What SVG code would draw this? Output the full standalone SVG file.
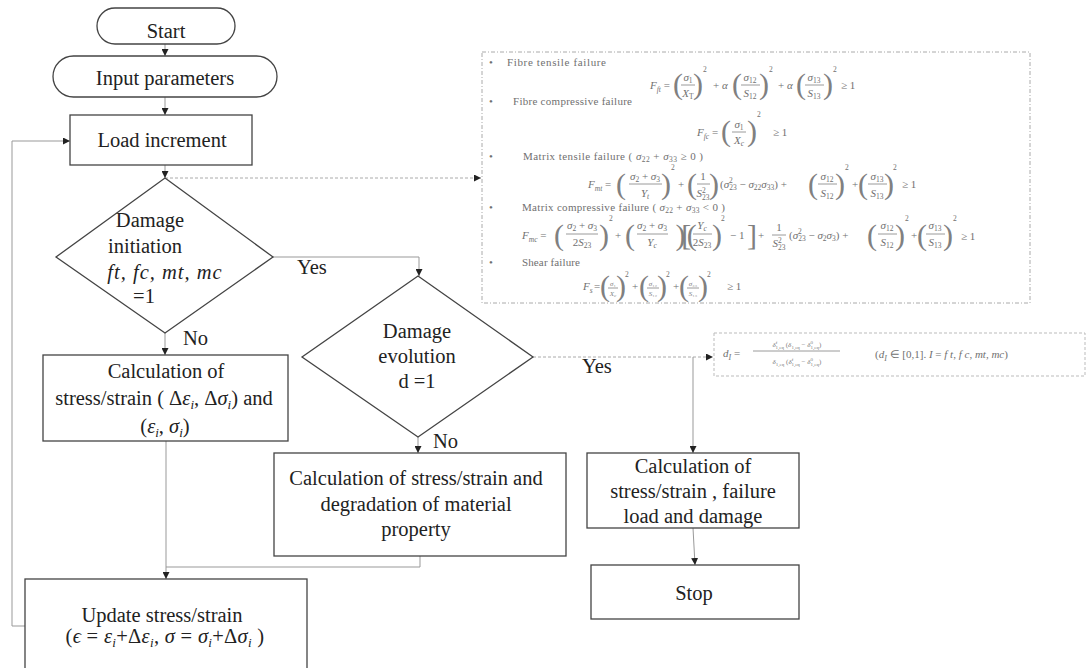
<svg xmlns="http://www.w3.org/2000/svg" width="1088" height="668" viewBox="0 0 1088 668">
<defs>
<marker id="ah" viewBox="0 0 10 10" refX="10" refY="5" markerWidth="7" markerHeight="7" markerUnits="userSpaceOnUse" orient="auto"><path d="M0,0 L10,5 L0,10 z" fill="#222"/></marker>
<style>
.t{font-family:'Liberation Serif',serif;font-size:20.5px;fill:#222}
.c{text-anchor:middle}
.i{font-style:italic}
.nd{fill:#fff;stroke:#444;stroke-width:1.3}
.cn{fill:none;stroke:#999;stroke-width:1}
.ds{fill:none;stroke:#aaa;stroke-width:1;stroke-dasharray:3 2}
.m{font-family:'Liberation Serif',serif;font-size:11px;fill:#707070}
.sb{font-size:7.5px}
.pr{font-family:'Liberation Serif',serif;font-size:30px;fill:#808080;text-anchor:middle}
.fb{stroke:#808080;stroke-width:0.8}
.sm{font-family:'Liberation Serif',serif;font-size:7px;fill:#808080}
</style>
</defs>
<rect width="1088" height="668" fill="#fff"/>

<g id="connectors">
<line class="cn" x1="165" y1="44" x2="165" y2="56" marker-end="url(#ah)"/>
<line class="cn" x1="165" y1="97" x2="165" y2="115" marker-end="url(#ah)"/>
<line class="cn" x1="165" y1="165" x2="165" y2="178" marker-end="url(#ah)"/>
<line class="ds" x1="165" y1="178" x2="481" y2="178" marker-end="url(#ah)"/>
<polyline class="cn" points="273,257 419,257 419,276" marker-end="url(#ah)"/>
<line class="cn" x1="165" y1="333" x2="165" y2="355" marker-end="url(#ah)"/>
<line class="cn" x1="418" y1="437" x2="418" y2="453" marker-end="url(#ah)"/>
<line class="cn" x1="166" y1="441" x2="166" y2="579" marker-end="url(#ah)"/>
<polyline class="cn" points="420,556 420,567 166,567"/>
<line class="ds" x1="533" y1="357" x2="713" y2="357" marker-end="url(#ah)"/>
<line class="cn" x1="693" y1="357" x2="693" y2="453" marker-end="url(#ah)"/>
<line class="cn" x1="693" y1="528" x2="695" y2="565" marker-end="url(#ah)"/>
<polyline class="cn" points="25,626 12,626 12,141 70,141" marker-end="url(#ah)"/>
</g>

<g id="start">
<rect class="nd" x="97" y="8" width="138" height="36" rx="18"/>
<text class="t c" x="166" y="38">Start</text>
</g>
<g id="input">
<rect class="nd" x="53" y="56" width="224" height="41" rx="20.5"/>
<text class="t c" x="165" y="85">Input parameters</text>
</g>
<g id="load">
<rect class="nd" x="70" y="115" width="182" height="50"/>
<text class="t c" x="162" y="147">Load increment</text>
</g>
<g id="initiation">
<polygon class="nd" points="165,178 273,257 165,333 56,257"/>
<text class="t c" x="150" y="227">Damage</text>
<text class="t c" x="145" y="253">initiation</text>
<text class="t c i" x="165" y="279" letter-spacing="1">ft, fc, mt, mc</text>
<text class="t c" x="144" y="303">=1</text>
</g>
<text class="t" x="297" y="274">Yes</text>
<text class="t" x="183" y="345">No</text>
<g id="calc1">
<rect class="nd" x="43" y="355" width="245" height="86"/>
<text class="t c" x="166" y="378">Calculation of</text>
<text class="t c" x="164" y="405">stress/strain ( Δ<tspan class="i">ε</tspan><tspan class="i" font-size="13" dy="4">i</tspan><tspan dy="-4">, Δ</tspan><tspan class="i">σ</tspan><tspan class="i" font-size="13" dy="4">i</tspan><tspan dy="-4">) and</tspan></text>
<text class="t c" x="165" y="433">(<tspan class="i">ε</tspan><tspan class="i" font-size="13" dy="4">i</tspan><tspan dy="-4">,  </tspan><tspan class="i">σ</tspan><tspan class="i" font-size="13" dy="4">i</tspan><tspan dy="-4">)</tspan></text>
</g>
<g id="evolution">
<polygon class="nd" points="418,276 533,357 418,437 302,357"/>
<text class="t c" x="417" y="338">Damage</text>
<text class="t c" x="417" y="363">evolution</text>
<text class="t c" x="417" y="388">d =1</text>
</g>
<text class="t" x="582" y="373">Yes</text>
<text class="t" x="433" y="448">No</text>
<g id="calc2">
<rect class="nd" x="274" y="453" width="292" height="103"/>
<text class="t c" x="416" y="485">Calculation of stress/strain and</text>
<text class="t c" x="416" y="511">degradation of material</text>
<text class="t c" x="416" y="536">property</text>
</g>
<g id="calc3">
<rect class="nd" x="587" y="453" width="212" height="75"/>
<text class="t c" x="693" y="473">Calculation of</text>
<text class="t c" x="693" y="498">stress/strain , failure</text>
<text class="t c" x="693" y="523">load and damage</text>
</g>
<g id="stop">
<rect class="nd" x="591" y="565" width="208" height="54"/>
<text class="t c" x="694" y="600">Stop</text>
</g>
<g id="update">
<rect class="nd" x="25" y="579" width="282" height="95"/>
<text class="t c" x="162" y="622">Update stress/strain</text>
<text class="t c" x="165" y="643" letter-spacing="0.3">(<tspan class="i">ϵ</tspan> = <tspan class="i">ε</tspan><tspan class="i" font-size="13" dy="4">i</tspan><tspan dy="-4">+Δ</tspan><tspan class="i">ε</tspan><tspan class="i" font-size="13" dy="4">i</tspan><tspan dy="-4">, </tspan><tspan class="i">σ</tspan> = <tspan class="i">σ</tspan><tspan class="i" font-size="13" dy="4">i</tspan><tspan dy="-4">+Δ</tspan><tspan class="i">σ</tspan><tspan class="i" font-size="13" dy="4">i</tspan><tspan dy="-4"> )</tspan></text>
</g>

<g id="criteria">
<rect x="482" y="52" width="548" height="251" fill="none" stroke="#aaa" stroke-width="1" stroke-dasharray="4 2 1 2"/>
<text class="m" x="489" y="66">•</text>
<text class="m" x="507" y="66" textLength="99">Fibre tensile failure</text>
<!-- F_ft -->
<text class="m" x="650" y="89"><tspan class="i">F</tspan><tspan class="sb i" dy="3">ft</tspan><tspan dy="-3"> =</tspan></text>
<text class="pr" x="678" y="94">(</text>
<text class="m c" x="688" y="81"><tspan class="i">σ</tspan><tspan class="sb" dy="2">1</tspan></text>
<line class="fb" x1="681" y1="85" x2="695" y2="85"/>
<text class="m c" x="688" y="97"><tspan class="i">X</tspan><tspan class="sb" dy="2">T</tspan></text>
<text class="pr" x="698" y="94">)</text>
<text class="m sb" x="703" y="72">2</text>
<text class="m" x="713" y="89">+ <tspan class="i">α</tspan></text>
<text class="pr" x="737" y="94">(</text>
<text class="m c" x="750" y="81"><tspan class="i">σ</tspan><tspan class="sb" dy="2">12</tspan></text>
<line class="fb" x1="741" y1="85" x2="760" y2="85"/>
<text class="m c" x="750" y="97"><tspan class="i">S</tspan><tspan class="sb" dy="2">12</tspan></text>
<text class="pr" x="764" y="94">)</text>
<text class="m sb" x="769" y="72">2</text>
<text class="m" x="778" y="89">+ <tspan class="i">α</tspan></text>
<text class="pr" x="801" y="94">(</text>
<text class="m c" x="814" y="81"><tspan class="i">σ</tspan><tspan class="sb" dy="2">13</tspan></text>
<line class="fb" x1="805" y1="85" x2="824" y2="85"/>
<text class="m c" x="814" y="97"><tspan class="i">S</tspan><tspan class="sb" dy="2">13</tspan></text>
<text class="pr" x="828" y="94">)</text>
<text class="m sb" x="833" y="72">2</text>
<text class="m" x="841" y="89">≥ 1</text>

<text class="m" x="489" y="105">•</text>
<text class="m" x="513" y="105" textLength="119">Fibre compressive failure</text>
<!-- F_fc -->
<text class="m" x="697" y="136"><tspan class="i">F</tspan><tspan class="sb i" dy="3">fc</tspan><tspan dy="-3"> =</tspan></text>
<text class="pr" x="726" y="141">(</text>
<text class="m c" x="739" y="128"><tspan class="i">σ</tspan><tspan class="sb" dy="2">1</tspan></text>
<line class="fb" x1="732" y1="132" x2="746" y2="132"/>
<text class="m c" x="739" y="144"><tspan class="i">X</tspan><tspan class="sb i" dy="2">c</tspan></text>
<text class="pr" x="752" y="141">)</text>
<text class="m sb" x="757" y="117">2</text>
<text class="m" x="773" y="136">≥ 1</text>

<text class="m" x="489" y="160">•</text>
<text class="m" x="523" y="160" textLength="180">Matrix tensile failure ( <tspan class="i">σ</tspan><tspan class="sb" dy="2">22</tspan><tspan dy="-2"> + </tspan><tspan class="i">σ</tspan><tspan class="sb" dy="2">33</tspan><tspan dy="-2"> ≥ 0 )</tspan></text>
<!-- F_mt -->
<text class="m" x="588" y="188"><tspan class="i">F</tspan><tspan class="sb i" dy="3">mt</tspan><tspan dy="-3"> =</tspan></text>
<text class="pr" x="621" y="194" font-size="32">(</text>
<text class="m c" x="645" y="180"><tspan class="i">σ</tspan><tspan class="sb" dy="2">2</tspan><tspan dy="-2"> + </tspan><tspan class="i">σ</tspan><tspan class="sb" dy="2">3</tspan></text>
<line class="fb" x1="629" y1="184" x2="662" y2="184"/>
<text class="m c" x="645" y="197"><tspan class="i">Y</tspan><tspan class="sb i" dy="2">t</tspan></text>
<text class="pr" x="666" y="194" font-size="32">)</text>
<text class="m sb" x="671" y="170">2</text>
<text class="m" x="678" y="188">+</text>
<text class="pr" x="692" y="194" font-size="32">(</text>
<text class="m c" x="703" y="180">1</text>
<line class="fb" x1="697" y1="184" x2="710" y2="184"/>
<text class="m c" x="703" y="197"><tspan class="i">S</tspan><tspan class="sb" dy="-4">2</tspan><tspan class="sb" dx="-3.7" dy="7">23</tspan></text>
<text class="pr" x="714" y="194" font-size="32">)</text>
<text class="m" x="720" y="188">(<tspan class="i">σ</tspan><tspan class="sb" dy="-5">2</tspan><tspan class="sb" dx="-3.7" dy="7">23</tspan><tspan dy="-2"> − </tspan><tspan class="i">σ</tspan><tspan class="sb" dy="2">22</tspan><tspan class="i" dy="-2">σ</tspan><tspan class="sb" dy="2">33</tspan><tspan dy="-2">) +</tspan></text>
<text class="pr" x="813" y="194" font-size="32">(</text>
<text class="m c" x="827" y="180"><tspan class="i">σ</tspan><tspan class="sb" dy="2">12</tspan></text>
<line class="fb" x1="818" y1="184" x2="837" y2="184"/>
<text class="m c" x="827" y="197"><tspan class="i">S</tspan><tspan class="sb" dy="2">12</tspan></text>
<text class="pr" x="840" y="194" font-size="32">)</text>
<text class="m sb" x="845" y="170">2</text>
<text class="m" x="852" y="188">+</text>
<text class="pr" x="863" y="194" font-size="32">(</text>
<text class="m c" x="877" y="180"><tspan class="i">σ</tspan><tspan class="sb" dy="2">13</tspan></text>
<line class="fb" x1="868" y1="184" x2="887" y2="184"/>
<text class="m c" x="877" y="197"><tspan class="i">S</tspan><tspan class="sb" dy="2">13</tspan></text>
<text class="pr" x="889" y="194" font-size="32">)</text>
<text class="m sb" x="893" y="170">2</text>
<text class="m" x="902" y="188">≥ 1</text>

<text class="m" x="489" y="211">•</text>
<text class="m" x="522" y="211" textLength="203">Matrix compressive failure ( <tspan class="i">σ</tspan><tspan class="sb" dy="2">22</tspan><tspan dy="-2"> + </tspan><tspan class="i">σ</tspan><tspan class="sb" dy="2">33</tspan><tspan dy="-2"> &lt; 0 )</tspan></text>
<!-- F_mc -->
<text class="m" x="522" y="239"><tspan class="i">F</tspan><tspan class="sb i" dy="3">mc</tspan><tspan dy="-3"> =</tspan></text>
<text class="pr" x="559" y="245" font-size="34">(</text>
<text class="m c" x="582" y="229"><tspan class="i">σ</tspan><tspan class="sb" dy="2">2</tspan><tspan dy="-2"> + </tspan><tspan class="i">σ</tspan><tspan class="sb" dy="2">3</tspan></text>
<line class="fb" x1="566" y1="234" x2="598" y2="234"/>
<text class="m c" x="582" y="246">2<tspan class="i">S</tspan><tspan class="sb" dy="2">23</tspan></text>
<text class="pr" x="604" y="245" font-size="34">)</text>
<text class="m sb" x="609" y="221">2</text>
<text class="m" x="615" y="239">+</text>
<text class="pr" x="630" y="245" font-size="34">(</text>
<text class="m c" x="652" y="229"><tspan class="i">σ</tspan><tspan class="sb" dy="2">2</tspan><tspan dy="-2"> + </tspan><tspan class="i">σ</tspan><tspan class="sb" dy="2">3</tspan></text>
<line class="fb" x1="637" y1="234" x2="668" y2="234"/>
<text class="m c" x="652" y="246"><tspan class="i">Y</tspan><tspan class="sb i" dy="2">c</tspan></text>
<text class="pr" x="684" y="245" font-size="34" letter-spacing="-4.3">)[(</text>
<text class="m c" x="702" y="229"><tspan class="i">Y</tspan><tspan class="sb i" dy="2">c</tspan></text>
<line class="fb" x1="693" y1="234" x2="712" y2="234"/>
<text class="m c" x="702" y="246">2<tspan class="i">S</tspan><tspan class="sb" dy="2">23</tspan></text>
<text class="pr" x="717" y="245" font-size="34">)</text>
<text class="m sb" x="721" y="221">2</text>
<text class="m" x="730" y="239">− 1</text>
<text class="pr" x="752" y="245" font-size="34">]</text>
<text class="m" x="758" y="239">+</text>
<text class="m c" x="779" y="231">1</text>
<line class="fb" x1="772" y1="235" x2="786" y2="235"/>
<text class="m c" x="779" y="247"><tspan class="i">S</tspan><tspan class="sb" dy="-4">2</tspan><tspan class="sb" dx="-3.7" dy="7">23</tspan></text>
<text class="m" x="789" y="239">(<tspan class="i">σ</tspan><tspan class="sb" dy="-5">2</tspan><tspan class="sb" dx="-3.7" dy="7">23</tspan><tspan dy="-2"> − </tspan><tspan class="i">σ</tspan><tspan class="sb" dy="2">2</tspan><tspan class="i" dy="-2">σ</tspan><tspan class="sb" dy="2">3</tspan><tspan dy="-2">) +</tspan></text>
<text class="pr" x="872" y="245" font-size="34">(</text>
<text class="m c" x="887" y="229"><tspan class="i">σ</tspan><tspan class="sb" dy="2">12</tspan></text>
<line class="fb" x1="878" y1="234" x2="897" y2="234"/>
<text class="m c" x="887" y="246"><tspan class="i">S</tspan><tspan class="sb" dy="2">12</tspan></text>
<text class="pr" x="900" y="245" font-size="34">)</text>
<text class="m sb" x="905" y="221">2</text>
<text class="m" x="911" y="239">+</text>
<text class="pr" x="922" y="245" font-size="34">(</text>
<text class="m c" x="935" y="229"><tspan class="i">σ</tspan><tspan class="sb" dy="2">13</tspan></text>
<line class="fb" x1="926" y1="234" x2="945" y2="234"/>
<text class="m c" x="935" y="246"><tspan class="i">S</tspan><tspan class="sb" dy="2">13</tspan></text>
<text class="pr" x="948" y="245" font-size="34">)</text>
<text class="m sb" x="953" y="221">2</text>
<text class="m" x="961" y="240">≥ 1</text>

<text class="m" x="489" y="266">•</text>
<text class="m" x="522" y="266" textLength="58">Shear  failure</text>
<!-- F_s -->
<text class="m" x="583" y="290"><tspan class="i">F</tspan><tspan class="sb i" dy="3">s</tspan></text>
<text class="m" x="594" y="290">=</text>
<text class="pr" x="605" y="296" font-size="20">(</text>
<text class="sm c" x="613" y="286"><tspan class="i">σ</tspan>₁</text>
<line class="fb" x1="608" y1="288" x2="618" y2="288"/>
<text class="sm c" x="613" y="296"><tspan class="i">X</tspan><tspan class="i" font-size="5" dy="1">c</tspan></text>
<text class="pr" x="621" y="296" font-size="20">)</text>
<text class="m sb" x="625" y="277">2</text>
<text class="m" x="632" y="290">+</text>
<text class="pr" x="644" y="296" font-size="20">(</text>
<text class="sm c" x="653" y="286"><tspan class="i">σ</tspan>₁₂</text>
<line class="fb" x1="647" y1="288" x2="659" y2="288"/>
<text class="sm c" x="653" y="296"><tspan class="i">S</tspan>₁₂</text>
<text class="pr" x="662" y="296" font-size="20">)</text>
<text class="m sb" x="666" y="277">2</text>
<text class="m" x="673" y="290">+</text>
<text class="pr" x="684" y="296" font-size="20">(</text>
<text class="sm c" x="693" y="286"><tspan class="i">σ</tspan>₂₃</text>
<line class="fb" x1="687" y1="288" x2="699" y2="288"/>
<text class="sm c" x="693" y="296"><tspan class="i">S</tspan>₁₃</text>
<text class="pr" x="703" y="296" font-size="20">)</text>
<text class="m sb" x="707" y="277">2</text>
<text class="m" x="727" y="290">≥ 1</text>
</g>

<g id="damage-variable">
<rect x="714" y="333" width="371" height="43" fill="none" stroke="#bbb" stroke-width="1" stroke-dasharray="3 2"/>
<text class="m" x="723" y="357" font-size="13"><tspan class="i">d</tspan><tspan class="i" font-size="8" dy="3">I</tspan><tspan dy="-3"> =</tspan></text>
<text class="sm c" x="797" y="347"><tspan class="i">δ</tspan><tspan font-size="5" dy="-3">f</tspan><tspan font-size="5" dx="-2" dy="5">1,eq</tspan><tspan dy="-2"> (</tspan><tspan class="i">δ</tspan><tspan font-size="5" dy="2">1,eq</tspan><tspan dy="-2"> − </tspan><tspan class="i">δ</tspan><tspan font-size="5" dy="-3">0</tspan><tspan font-size="5" dx="-2.5" dy="5">1,eq</tspan><tspan dy="-2">)</tspan></text>
<line class="fb" x1="753" y1="351" x2="840" y2="351"/>
<text class="sm c" x="797" y="364"><tspan class="i">δ</tspan><tspan font-size="5" dy="2">1,eq</tspan><tspan dy="-2"> (</tspan><tspan class="i">δ</tspan><tspan font-size="5" dy="-3">f</tspan><tspan font-size="5" dx="-2" dy="5">1,eq</tspan><tspan dy="-2"> − </tspan><tspan class="i">δ</tspan><tspan font-size="5" dy="-3">0</tspan><tspan font-size="5" dx="-2.5" dy="5">1,eq</tspan><tspan dy="-2">)</tspan></text>
<text class="m" x="875" y="358" font-size="13">(<tspan class="i">d</tspan><tspan class="i" font-size="8" dy="3">I</tspan><tspan dy="-3"> ∈ [0,1].   </tspan><tspan class="i">I</tspan> = <tspan class="i">f t</tspan>, <tspan class="i">f c</tspan>, <tspan class="i">mt</tspan>, <tspan class="i">mc</tspan>)</text>
</g>
</svg>
